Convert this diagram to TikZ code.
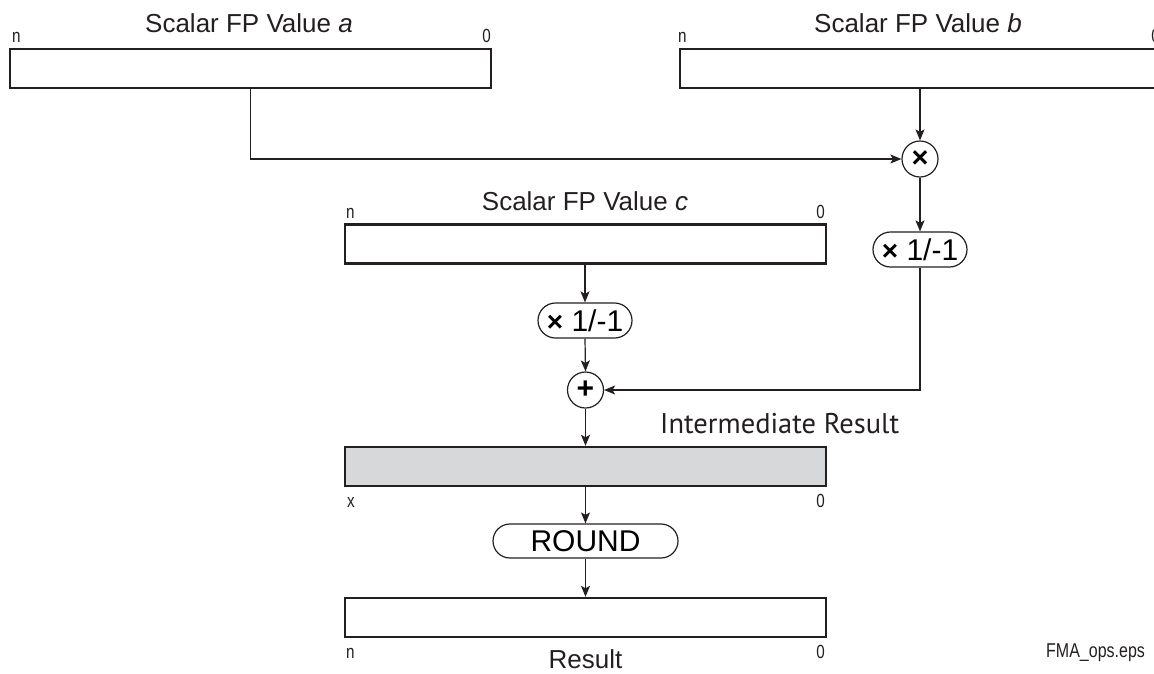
\documentclass[tikz,border=0pt]{standalone}
\usepackage{fontspec}
\setmainfont{Liberation Sans}
\newfontfamily\narrowfont[FakeStretch=0.8]{Liberation Sans}
\newfontfamily\humanfont{PT Sans}
\usetikzlibrary{arrows.meta,shapes.misc}
\definecolor{ink}{HTML}{231F20}
\definecolor{regfill}{RGB}{215,216,218}
\begin{document}
\begin{tikzpicture}[x=1pt,y=-1pt,
  reg/.style={draw=ink, line width=2.4pt, minimum width=481pt, minimum height=39pt, inner sep=0pt},
  conn/.style={draw=ink, line width=1.2pt, -{Stealth[length=11pt,width=9pt,inset=2.5pt]}},
  op/.style={draw=ink, line width=1.2pt, circle, minimum size=36pt, inner sep=0pt},
  pill/.style={draw=ink, line width=1.2pt, rounded rectangle, inner sep=0pt},
  title/.style={anchor=base, font=\fontsize{26}{30}\selectfont, text=ink},
  bitlbl/.style={font=\narrowfont\fontsize{19}{22}\selectfont, text=ink, inner sep=0pt},
]
\useasboundingbox (0,0) rectangle (1154,673);
\clip (0,0) rectangle (1154,673);

% registers
\node[reg] (a) at (250.5,68.5) {};
\node[reg] (b) at (920.5,68.5) {};
\node[reg] (c) at (585.5,244) {};
\node[reg, fill=regfill] (inter) at (585.5,466.5) {};
\node[reg] (res) at (585.5,617.5) {};

% titles
\node[title] (ta) at (249,32) {Scalar FP Value \textit{a}};
\node[title] (tb) at (918,32) {Scalar FP Value \textit{b}};
\node[title] (tc) at (585,210) {Scalar FP Value \textit{c}};
\node[anchor=base west, inner sep=0pt, text=ink, font=\humanfont\fontsize{28.5}{32}\selectfont] (ti) at (660,433) {Intermediate Result};
\node[title] (tr) at (585.5,668) {Result};
\node[anchor=base west, inner sep=0pt, text=ink, font=\narrowfont\fontsize{20}{24}\selectfont] (fn) at (1046,657) {FMA\_ops.eps};

% bit labels
\node[bitlbl, anchor=base west] (an) at (12,42) {n};
\node[bitlbl, anchor=base east] (a0) at (491,42) {0};
\node[bitlbl, anchor=base west] (bn) at (678,42) {n};
\node[bitlbl, anchor=base east] (b0) at (1160,42) {0};
\node[bitlbl, anchor=base west] (cn) at (346,218) {n};
\node[bitlbl, anchor=base east] (c0) at (825,218) {0};
\node[bitlbl, anchor=base west] (ix) at (347,507) {x};
\node[bitlbl, anchor=base east] (i0) at (825,507) {0};
\node[bitlbl, anchor=base west] (rn) at (346,658) {n};
\node[bitlbl, anchor=base east] (r0) at (825,658) {0};

% operators
\node[op] (mul) at (920,159) {\fontsize{29}{29}\selectfont\bfseries ×};
\node[op] (add) at (585.5,390) {\fontsize{30}{30}\selectfont\bfseries +};
\node[pill, minimum width=94pt, minimum height=35pt] (neg1) at (920,249.5)
  {\fontsize{30}{30}\selectfont{\fontsize{28}{28}\selectfont\bfseries ×} 1/-1};
\node[pill, minimum width=94pt, minimum height=35pt] (neg2) at (585,320.5)
  {\fontsize{30}{30}\selectfont{\fontsize{28}{28}\selectfont\bfseries ×} 1/-1};
\node[pill, minimum width=185pt, minimum height=34pt] (rnd) at (585.5,541)
  {\fontsize{30}{30}\selectfont ROUND};

% connectors
\draw[conn] (a.south) |- (mul.west);
\draw[conn] (b.south -| mul.north) -- (mul.north);
\draw[conn] (mul.south) -- (neg1.north);
\draw[conn] (neg1.south) |- (add.east);
\draw[conn] (c.south -| neg2.north) -- (neg2.north);
\draw[conn] (neg2.south) -- (add.north);
\draw[conn] (add.south) -- (add.south |- inter.north);
\draw[conn] (inter.south -| rnd.north) -- (rnd.north);
\draw[conn] (rnd.south) -- (rnd.south |- res.north);
\end{tikzpicture}
\end{document}
